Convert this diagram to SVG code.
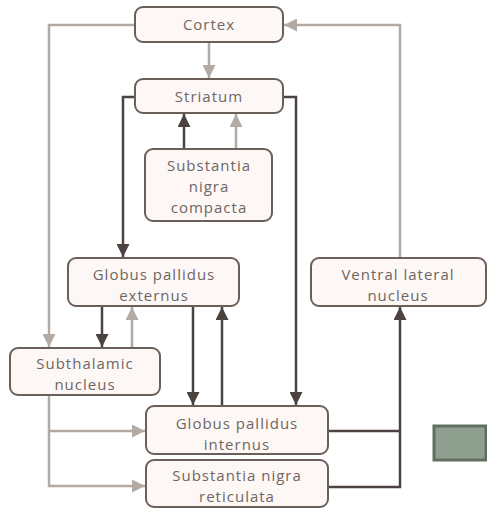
<svg xmlns="http://www.w3.org/2000/svg" width="487" height="513" viewBox="0 0 487 513">
<defs>
<marker id="ad" viewBox="0 0 10 10" refX="10" refY="5" markerWidth="13" markerHeight="13" markerUnits="userSpaceOnUse" orient="auto"><path d="M0,0 L10,5 L0,10 z" fill="#4a4340"/></marker>
<marker id="al" viewBox="0 0 10 10" refX="10" refY="5" markerWidth="13" markerHeight="13" markerUnits="userSpaceOnUse" orient="auto"><path d="M0,0 L10,5 L0,10 z" fill="#b3aaa3"/></marker>
</defs>
<style>
.box{fill:#fdf8f6;stroke:#6b5f5a;stroke-width:2}
text{font-family:"Open Sans","Liberation Sans",sans-serif;font-size:15px;fill:#6e6662;text-anchor:middle;letter-spacing:1px}
.d{fill:none;stroke:#4a4340;stroke-width:2.5}
.l{fill:none;stroke:#b3aaa3;stroke-width:2.5}
</style>
<rect width="487" height="513" fill="#ffffff"/>
<g id="connectors">
<path class="l" d="M209,42 V78" marker-end="url(#al)"/>
<path class="l" d="M135,25 H49 V347" marker-end="url(#al)"/>
<path class="l" d="M400,258 V25 H284" marker-end="url(#al)"/>
<path class="d" d="M135,97 H123 V257" marker-end="url(#ad)"/>
<path class="d" d="M283,97 H296 V405" marker-end="url(#ad)"/>
<path class="d" d="M184,149 V114" marker-end="url(#ad)"/>
<path class="l" d="M236,149 V114" marker-end="url(#al)"/>
<path class="d" d="M102,306 V347" marker-end="url(#ad)"/>
<path class="l" d="M132,348 V307" marker-end="url(#al)"/>
<path class="d" d="M193,306 V405" marker-end="url(#ad)"/>
<path class="d" d="M222,406 V307" marker-end="url(#ad)"/>
<path class="l" d="M49,395 V486 H145"  marker-end="url(#al)"/>
<path class="l" d="M49,431 H145" marker-end="url(#al)"/>
<path class="d" d="M328,431 H400"/>
<path class="d" d="M328,487 H400 V307" marker-end="url(#ad)"/>
</g>
<g id="cortex"><rect class="box" x="135" y="7" width="148" height="35" rx="8"/><text x="209" y="30">Cortex</text></g>
<g id="striatum"><rect class="box" x="135" y="79" width="148" height="34" rx="8"/><text x="209" y="102">Striatum</text></g>
<g id="snc"><rect class="box" x="145" y="149" width="127" height="72" rx="8"/><text x="209" y="171">Substantia</text><text x="209" y="192">nigra</text><text x="209" y="213">compacta</text></g>
<g id="gpe"><rect class="box" x="68" y="258" width="171" height="48" rx="8"/><text x="154" y="280">Globus pallidus</text><text x="154" y="301">externus</text></g>
<g id="vl"><rect class="box" x="311" y="258" width="175" height="48" rx="8"/><text x="398" y="280">Ventral lateral</text><text x="398" y="301">nucleus</text></g>
<g id="stn"><rect class="box" x="10" y="348" width="150" height="47" rx="8"/><text x="85" y="369">Subthalamic</text><text x="85" y="390">nucleus</text></g>
<g id="gpi"><rect class="box" x="146" y="406" width="182" height="48" rx="8"/><text x="237" y="429">Globus pallidus</text><text x="237" y="450">internus</text></g>
<g id="snr"><rect class="box" x="146" y="460" width="182" height="47" rx="8"/><text x="237" y="481">Substantia nigra</text><text x="237" y="502">reticulata</text></g>
<rect x="434" y="426" width="52" height="34" fill="#8fa090" stroke="#5f6f60" stroke-width="3"/>
</svg>
